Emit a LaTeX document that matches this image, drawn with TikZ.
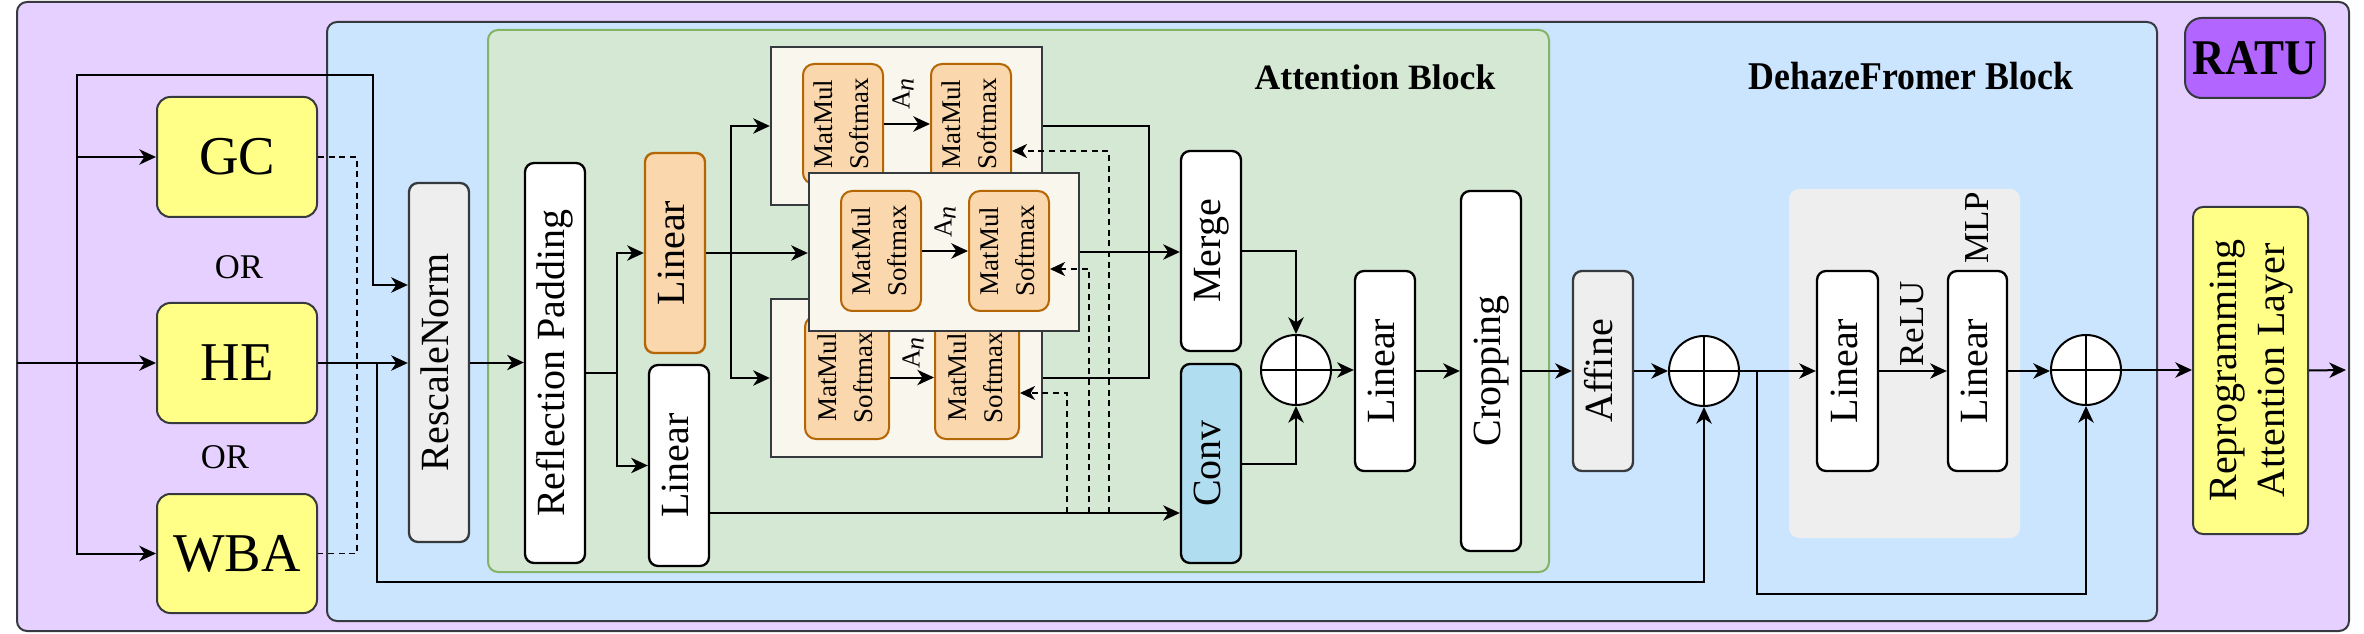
\documentclass[tikz,border=0pt]{standalone}
\usepackage{fontspec}
\setmainfont{Liberation Serif}
\usepackage{graphicx}
\usetikzlibrary{arrows.meta,calc}
\definecolor{purpbg}{HTML}{E6D0FF}
\definecolor{bluebg}{HTML}{CCE5FF}
\definecolor{grnbg}{HTML}{D5E8D4}
\definecolor{grnbd}{HTML}{82B366}
\definecolor{yel}{HTML}{FFFF88}
\definecolor{orbg}{HTML}{FAD7AC}
\definecolor{orbd}{HTML}{B46504}
\definecolor{attbg}{HTML}{F9F7ED}
\definecolor{convbg}{HTML}{B1DDF0}
\definecolor{graybg}{HTML}{EEEEEE}
\definecolor{ratuc}{HTML}{B266FF}
\definecolor{bord}{HTML}{36393D}
\newcommand{\rtxt}[1]{\rotatebox{90}{\begin{tabular}{@{}c@{}}#1\end{tabular}}}
\begin{document}
\begin{tikzpicture}[x=0.3pt,y=-0.3pt,
  font=\fontsize{12}{14.4}\selectfont,
  cr/.style n args={4}{minimum width={(#3-#1)*0.3pt}, minimum height={(#4-#2)*0.3pt},
    at={({(#1+#3)/2},{(#2+#4)/2})}, anchor=center},
  cont/.style={inner sep=0pt, rounded corners=3pt, line width=0.6pt},
  blk/.style={inner sep=0pt, draw=black, fill=white, line width=0.7pt, rounded corners=2.7pt},
  gblk/.style={blk, draw=bord, fill=graybg},
  yblk/.style={inner sep=0pt, draw=bord, fill=yel, line width=0.6pt, rounded corners=4pt, font=\fontsize{16.4}{20}\selectfont},
  oblk/.style={blk, draw=orbd, fill=orbg},
  attn/.style={inner sep=0pt, draw=bord, fill=attbg, line width=0.7pt},
  mm/.style={oblk, line width=0.6pt, rounded corners=3.3pt, font=\fontsize{8.1}{11}\selectfont},
  pls/.style={circle, draw=black, fill=white, line width=0.6pt, minimum size=21pt, inner sep=0pt,
    path picture={\draw[line width=0.6pt] (path picture bounding box.north) -- (path picture bounding box.south)
      (path picture bounding box.west) -- (path picture bounding box.east);}},
  ln/.style={line width=0.6pt},
  arr/.style={ln, -{Stealth[length=5pt,width=4.6pt,inset=1.5pt]}},
  dsh/.style={line width=0.5pt, dash pattern=on 1.8pt off 1.4pt},
  darr/.style={dsh, -{Stealth[length=4.5pt,width=4.2pt,inset=1.3pt]}},
  lbl/.style={inner sep=0pt},
  anl/.style={lbl, rotate=90, font=\fontsize{7.8}{9}\selectfont},
]
\useasboundingbox (0,0) rectangle (2364,634);

% containers
\node[cont, draw=bord, fill=purpbg, cr={17}{2}{2349}{631}] (outer) {};
\node[cont, draw=bord, fill=bluebg, cr={327}{22}{2157}{621}] (dhz) {};
\node[cont, draw=grnbd, fill=grnbg, cr={488}{30}{1549}{572}] (att) {};
\node[lbl, font=\fontsize{10.7}{13}\selectfont\bfseries] (attl) at (1375,77) {Attention Block};
\node[lbl] (dhzl) at (1911,76) {\scalebox{0.91}[1]{\fontsize{11.8}{14}\selectfont\bfseries DehazeFromer Block}};
\node[cont, draw=bord, fill=ratuc, rounded corners=5pt, cr={2185}{18}{2325}{98}] (ratu) {\scalebox{0.9}[1]{\fontsize{15}{18}\selectfont\bfseries RATU}};
\node[fill=graybg, inner sep=0pt, rounded corners=3pt, cr={1789}{189}{2020}{538}] (mlpr) {};

% enhancement boxes
\node[yblk, cr={157}{97}{317}{217}] (gc) {GC};
\node[yblk, cr={157}{303}{317}{423}] (he) {HE};
\node[yblk, cr={157}{494}{317}{613}] (wba) {WBA};
\node[lbl, font=\fontsize{10.4}{12}\selectfont] (or1) at (239,267) {OR};
\node[lbl, font=\fontsize{10.4}{12}\selectfont] (or2) at (225,457) {OR};

% main blocks
\node[gblk, cr={409}{183}{469}{542}] (resc) {\rtxt{RescaleNorm}};
\node[blk, cr={525}{163}{585}{563}] (refl) {\rtxt{Reflection Padding}};
\node[oblk, cr={645}{153}{705}{353}] (lino) {\rtxt{Linear}};
\node[blk, cr={649}{365}{709}{566}] (linw) {\rtxt{Linear}};

% attention heads
\node[attn, cr={771}{47}{1042}{205}] (top) {};
\node[mm, cr={803}{64}{883}{184}] (ta) {\rtxt{MatMul\\Softmax}};
\node[mm, cr={931}{64}{1011}{184}] (tb) {\rtxt{MatMul\\Softmax}};
\draw[arr] (ta.east) -- (ta.east -| tb.west);
\node[anl] (an1) at (903,94) {A\raisebox{-0.35ex}{\textit{n}}};
\node[attn, cr={771}{299}{1042}{457}] (bot) {};
\node[mm, cr={805}{316}{889}{439}] (ba) {\rtxt{MatMul\\Softmax}};
\node[mm, cr={935}{316}{1019}{439}] (bb) {\rtxt{MatMul\\Softmax}};
\draw[arr] (ba.east) -- (ba.east -| bb.west);
\node[anl] (an3) at (913,353) {A\raisebox{-0.35ex}{\textit{n}}};
\node[attn, cr={809}{173}{1079}{331}] (mid) {};
\node[mm, cr={841}{191}{921}{311}] (ma) {\rtxt{MatMul\\Softmax}};
\node[mm, cr={969}{191}{1049}{311}] (mb) {\rtxt{MatMul\\Softmax}};
\draw[arr] (ma.east) -- (ma.east -| mb.west);
\node[anl] (an2) at (945,222) {A\raisebox{-0.35ex}{\textit{n}}};

\node[blk, cr={1181}{151}{1241}{351}] (merge) {\rtxt{Merge}};
\node[blk, fill=convbg, cr={1181}{364}{1241}{563}] (conv) {\rtxt{Conv}};
\node[pls] (p1) at (1296,370) {};
\node[blk, cr={1355}{271}{1415}{471}] (lin3) {\rtxt{Linear}};
\node[blk, cr={1461}{191}{1521}{551}] (crop) {\rtxt{Cropping}};
\node[gblk, cr={1573}{271}{1633}{471}] (aff) {\rtxt{Affine}};
\node[pls] (p2) at (1704,371) {};
\node[blk, cr={1817}{271}{1878}{471}] (lin4) {\rtxt{Linear}};
\node[blk, cr={1948}{271}{2007}{471}] (lin5) {\rtxt{Linear}};
\node[lbl, rotate=90, font=\fontsize{10.5}{12}\selectfont] (relu) at (1912,324) {ReLU};
\node[lbl, rotate=90, font=\fontsize{10.5}{12}\selectfont] (mlp) at (1977,228) {MLP};
\node[pls] (p3) at (2086,370) {};
\node[inner sep=0pt, draw=bord, fill=yel, line width=0.6pt, rounded corners=3pt, cr={2193}{207}{2308}{534}] (repr) {\rtxt{Reprogramming\\Attention Layer}};

% coordinates
\coordinate (in) at (17,363);
\coordinate (j1) at (77,363);
\coordinate (c1) at (77,75);
\coordinate (c2) at (373,75);
\coordinate (c3) at (373,285);
\coordinate (dx) at (357,360);
\coordinate (j2) at (377,363);
\coordinate (r1) at (377,582);
\coordinate (s1) at (617,373);
\coordinate (s2) at (731,253);
\coordinate (m1) at (1149,378);
\coordinate (d1) at (1109,513);
\coordinate (e1) at (1109,151);
\coordinate (d2) at (1089,513);
\coordinate (e2) at (1089,269);
\coordinate (d3) at (1067,513);
\coordinate (e3) at (1067,393);
\coordinate (j3) at (1757,371);
\coordinate (r2) at (1757,594);
\coordinate (out) at (2346,370);

% connectors
\draw[arr] (in) -- (he.west);
\draw[arr] (j1) |- (gc.west);
\draw[arr] (j1) |- (wba.west);
\draw[arr] (j1) -- (c1) -- (c2) -- (c3) -- (c3 -| resc.west);
\draw[dsh] (gc.east) -| (dx) |- (wba.east);
\draw[arr] (he.east) -- (he.east -| resc.west);
\draw[arr] (j2) -- (r1) -| (p2.south);
\draw[arr] (resc.east) -- (resc.east -| refl.west);
\draw[ln] (s1 -| refl.east) -- (s1);
\draw[arr] (s1) |- (lino.west);
\draw[arr] (s1) |- (linw.west);
\draw[arr] (lino.east) -- (lino.east -| mid.west);
\draw[arr] (s2) |- (top.west);
\draw[arr] (s2) |- (bot.west);
\draw[ln] (top.east) -| (m1) -- (bot.east);
\draw[arr] (mid.east) -- (mid.east -| merge.west);
\draw[arr] (d1 -| linw.east) -- (d1 -| conv.west);
\draw[darr] (d1) -- (e1) -- (e1 -| tb.east);
\draw[darr] (d2) -- (e2) -- (e2 -| mb.east);
\draw[darr] (d3) -- (e3) -- (e3 -| bb.east);
\draw[arr] (merge.east) -| (p1.north);
\draw[arr] (conv.east) -| (p1.south);
\draw[arr] (p1.east) -- (p1.east -| lin3.west);
\draw[arr] (lin3.east) -- (lin3.east -| crop.west);
\draw[arr] (crop.east) -- (crop.east -| aff.west);
\draw[arr] (aff.east) -- (aff.east -| p2.west);
\draw[arr] (p2.east) -- (p2.east -| lin4.west);
\draw[arr] (j3) -- (r2) -| (p3.south);
\draw[arr] (lin4.east) -- (lin4.east -| lin5.west);
\draw[arr] (lin5.east) -- (lin5.east -| p3.west);
\draw[arr] (p3.east) -- (p3.east -| repr.west);
\draw[arr] (repr.east) -- (out);
\end{tikzpicture}
\end{document}
